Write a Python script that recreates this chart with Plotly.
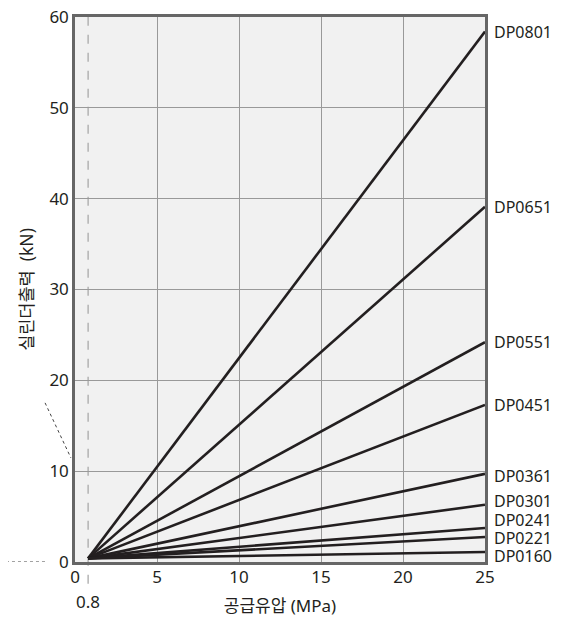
import plotly.graph_objects as go

models = ["DP0801", "DP0651", "DP0551", "DP0451", "DP0361", "DP0301", "DP0241", "DP0221", "DP0160"]
force_at_25 = [58.4, 39.1, 24.2, 17.3, 9.7, 6.3, 3.75, 2.75, 1.1]
p_min = 0.8
f_min = 0.4
p_max = 25
label_shift = [0, 0, 0, 0, -2, 4, 8, -1, -4]  # pixel offsets for crowded labels

x_ticks = [0, 5, 10, 15, 20, 25]
y_ticks = [0, 10, 20, 30, 40, 50, 60]

FONT = "Noto Sans, Noto Sans CJK KR, sans-serif"
LINE = "#231f20"

fig = go.Figure()
for name, f in zip(models, force_at_25):
    fig.add_trace(go.Scatter(
        x=[p_min, p_max], y=[f_min, f],
        mode="lines", line=dict(color=LINE, width=2.6),
        name=name, showlegend=False, hoverinfo="skip"))

for name, f, s in zip(models, force_at_25, label_shift):
    fig.add_annotation(x=p_max, y=f, text=name, showarrow=False,
                       xanchor="left", yanchor="middle", xshift=7, yshift=s,
                       font=dict(size=16, color="#231f20", family=FONT))

# 0.8 marker
fig.add_shape(type="line", xref="x", yref="paper", x0=p_min, x1=p_min, y0=-0.04, y1=1,
              line=dict(color="#aaaaaa", width=1.3, dash="dash"), layer="below")
fig.add_annotation(x=p_min, y=-0.048, xref="x", yref="paper", text=str(p_min), showarrow=False,
                   xanchor="center", yanchor="top", font=dict(size=17, color="#231f20", family=FONT))

# leader-line fragments on the left
fig.add_shape(type="line", xref="paper", yref="y", x0=-0.183, x1=-0.066, y0=0, y1=0,
              line=dict(color="#444444", width=1, dash="dot"))
fig.add_shape(type="line", xref="paper", yref="paper", x0=-0.073, x1=-0.010, y0=0.292, y1=0.191,
              line=dict(color="#444444", width=1, dash="dot"))
fig.add_shape(type="line", xref="paper", yref="paper", x0=-0.183, x1=-0.176, y0=0.485, y1=0.467,
              line=dict(color="#444444", width=1, dash="dot"))

fig.update_layout(
    width=560, height=612,
    margin=dict(l=67, r=83, t=9, b=58),
    paper_bgcolor="white", plot_bgcolor="#f1f1f1",
    font=dict(family=FONT, color="#231f20", size=17),
    xaxis=dict(range=[0, 25], tickvals=x_ticks, ticktext=[str(v) for v in x_ticks],
               showgrid=True, gridcolor="#999999", gridwidth=1, zeroline=False,
               showline=True, mirror=True, linecolor="#666666", linewidth=2.5,
               ticks="", tickfont=dict(size=17), ticklabelstandoff=-2, automargin=False,
               ticklabeloverflow="allow",
               title=dict(text="공급유압 (MPa)", font=dict(size=17), standoff=13)),
    yaxis=dict(range=[0, 60], tickvals=y_ticks, ticktext=[str(v) for v in y_ticks],
               showgrid=True, gridcolor="#999999", gridwidth=1, zeroline=False,
               showline=True, mirror=True, linecolor="#666666", linewidth=2.5,
               ticks="", tickfont=dict(size=17), automargin=False,
               ticklabeloverflow="allow",
               title=dict(text="실린더출력  (kN)", font=dict(size=17.5), standoff=12)),
)

fig.write_html("out.html")
